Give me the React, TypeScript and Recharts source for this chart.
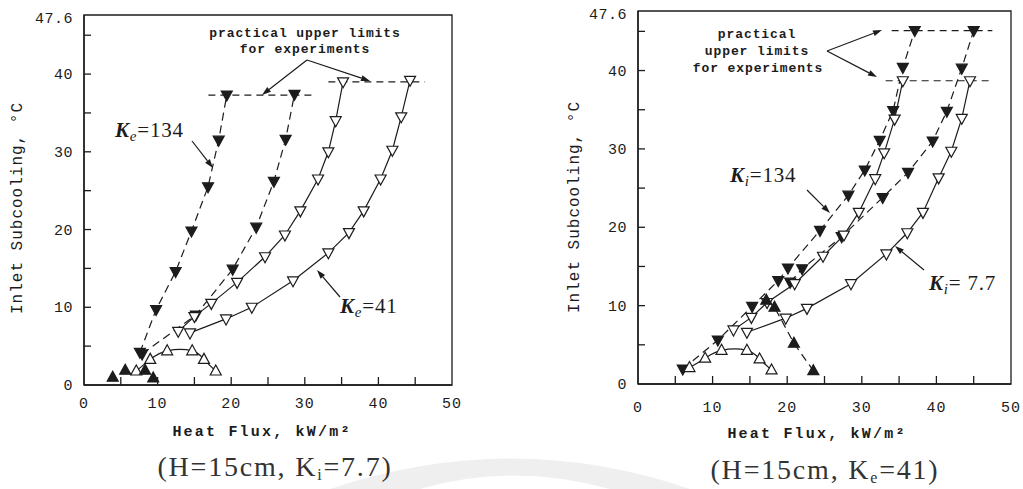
import React from 'react';
import { LineChart, Line, XAxis, YAxis, ReferenceLine, ReferenceArea } from 'recharts';

type P = { x: number; y: number };

const INK = '#1c1c1c';
const MONO = '"Liberation Mono", "DejaVu Sans Mono", monospace';
const SERIF = '"Liberation Serif", "DejaVu Serif", serif';

// ---------- Left panel (H=15cm, Ki=7.7) ----------
const leftKe134A: P[] = [
  { x: 7.6, y: 4.2 }, { x: 9.8, y: 9.7 }, { x: 12.45, y: 14.6 }, { x: 14.6, y: 19.8 },
  { x: 16.85, y: 25.5 }, { x: 18.3, y: 31.5 }, { x: 19.4, y: 37.3 },
];
const leftKe134B: P[] = [
  { x: 7.9, y: 4.0 }, { x: 15.2, y: 9.0 }, { x: 20.2, y: 14.9 }, { x: 23.4, y: 20.3 },
  { x: 25.8, y: 26.2 }, { x: 27.4, y: 31.6 }, { x: 28.6, y: 37.4 },
];
const leftKe41A: P[] = [
  { x: 12.8, y: 6.9 }, { x: 15.0, y: 8.8 }, { x: 17.3, y: 10.5 }, { x: 20.8, y: 13.2 },
  { x: 24.6, y: 16.5 }, { x: 27.3, y: 19.3 }, { x: 29.4, y: 22.4 }, { x: 31.8, y: 26.5 },
  { x: 33.2, y: 30.0 }, { x: 34.2, y: 34.0 }, { x: 35.2, y: 39.0 },
];
const leftKe41B: P[] = [
  { x: 14.4, y: 6.7 }, { x: 19.3, y: 8.5 }, { x: 22.8, y: 10.0 }, { x: 28.4, y: 13.4 },
  { x: 33.2, y: 17.0 }, { x: 36.0, y: 19.6 }, { x: 38.0, y: 22.4 }, { x: 40.3, y: 26.5 },
  { x: 41.9, y: 30.2 }, { x: 43.1, y: 34.5 }, { x: 44.3, y: 39.2 },
];
const leftLowOpen: P[] = [
  { x: 7.1, y: 1.8 }, { x: 9.0, y: 3.3 }, { x: 11.3, y: 4.4 }, { x: 14.7, y: 4.4 },
  { x: 16.3, y: 3.3 }, { x: 17.9, y: 1.8 },
];
const leftLowFilled: P[] = [
  { x: 3.9, y: 1.0 }, { x: 5.6, y: 1.9 }, { x: 8.3, y: 1.9 }, { x: 9.4, y: 0.9 },
];
const leftLimits = [
  { y: 37.3, x1: 16.9, x2: 30.9 },
  { y: 39.0, x1: 33.2, x2: 46.3 },
];

// ---------- Right panel (H=15cm, Ke=41) ----------
const rightKi134A: P[] = [
  { x: 6.0, y: 1.9 }, { x: 10.7, y: 5.6 }, { x: 15.3, y: 9.9 }, { x: 18.8, y: 13.2 },
  { x: 20.1, y: 14.8 }, { x: 24.4, y: 19.6 }, { x: 28.2, y: 24.1 }, { x: 30.4, y: 27.3 },
  { x: 32.4, y: 31.1 }, { x: 34.2, y: 34.9 }, { x: 35.5, y: 40.4 }, { x: 37.1, y: 45.1 },
];
const rightKi134B: P[] = [
  { x: 20.4, y: 13.0 }, { x: 22.0, y: 14.7 }, { x: 27.3, y: 18.8 }, { x: 32.8, y: 23.8 },
  { x: 36.2, y: 27.0 }, { x: 39.5, y: 31.0 }, { x: 41.4, y: 34.8 }, { x: 43.4, y: 40.3 },
  { x: 45.0, y: 45.1 },
];
const rightKi77A: P[] = [
  { x: 12.8, y: 6.9 }, { x: 15.2, y: 8.5 }, { x: 17.3, y: 10.4 }, { x: 21.0, y: 12.8 },
  { x: 24.8, y: 16.3 }, { x: 27.6, y: 19.0 }, { x: 29.6, y: 21.9 }, { x: 31.8, y: 26.2 },
  { x: 33.0, y: 29.5 }, { x: 34.4, y: 33.8 }, { x: 35.5, y: 38.7 },
];
const rightKi77B: P[] = [
  { x: 14.6, y: 6.6 }, { x: 19.8, y: 8.4 }, { x: 22.65, y: 9.65 }, { x: 28.55, y: 12.8 },
  { x: 33.3, y: 16.6 }, { x: 36.1, y: 19.3 }, { x: 38.2, y: 21.9 }, { x: 40.3, y: 26.3 },
  { x: 42.0, y: 29.7 }, { x: 43.4, y: 33.9 }, { x: 44.5, y: 38.7 },
];
const rightLowOpen: P[] = [
  { x: 6.9, y: 2.1 }, { x: 9.0, y: 3.3 }, { x: 11.2, y: 4.3 }, { x: 14.6, y: 4.3 },
  { x: 16.3, y: 3.2 }, { x: 17.9, y: 1.8 },
];
const rightLowFilled: P[] = [
  { x: 17.2, y: 10.7 }, { x: 18.3, y: 9.8 }, { x: 20.9, y: 5.2 }, { x: 23.5, y: 1.7 },
];
const rightLimits = [
  { y: 45.1, x1: 34.0, x2: 47.5 },
  { y: 38.7, x1: 33.2, x2: 47.0 },
];

// ---------- Axes ----------
const xTicks = [0, 5, 10, 15, 20, 25, 30, 35, 40, 45, 50];
const yTicks = [0, 5, 10, 15, 20, 25, 30, 35, 40, 45, 47.6];
const xLabeled = [0, 10, 20, 30, 40, 50];
const yLabeled = [0, 10, 20, 30, 40, 47.6];
const xTitle = 'Heat Flux, kW/m²';
const yTitle = 'Inlet Subcooling, °C';

const tri = (dir: 'down' | 'up', filled: boolean) => (props: any) => {
  const { cx, cy, index } = props;
  if (cx == null || cy == null) return <g key={`e${index}`} />;
  const s = 5.5;
  const d = dir === 'down'
    ? `M${cx - s},${cy - 4} L${cx + s},${cy - 4} L${cx},${cy + 6} Z`
    : `M${cx - s},${cy + 4} L${cx + s},${cy + 4} L${cx},${cy - 6} Z`;
  return (
    <path key={`t${index}`} d={d} fill={filled ? INK : '#fff'} stroke={INK} strokeWidth={1.2} />
  );
};

const makeXTick = (off: number) => (props: any) => {
  const { x, y, payload } = props;
  const v = payload.value as number;
  return (
    <g>
      {v > 0 && v < 50 && <line x1={x} x2={x} y1={y} y2={y - 8} stroke={INK} strokeWidth={1.3} />}
      {xLabeled.includes(v) && (
        <text x={x} y={y + off} textAnchor="middle" fontFamily={MONO} fontSize={15} fill={INK} letterSpacing={1}>
          {v}
        </text>
      )}
    </g>
  );
};

const YTick = (props: any) => {
  const { x, y, payload } = props;
  const v = payload.value as number;
  return (
    <g>
      {v > 0 && v < 47.6 && <line x1={x} x2={x + 7} y1={y} y2={y} stroke={INK} strokeWidth={1.3} />}
      {yLabeled.includes(v) && (
        <text x={x - 11} y={y + (v === 47.6 ? 8 : 5)} textAnchor="end" fontFamily={MONO} fontSize={15} fill={INK} letterSpacing={0.5}>
          {v}
        </text>
      )}
    </g>
  );
};

const DASH = '8 5';

type Series = { data: P[]; dashed: boolean; dir: 'down' | 'up'; filled: boolean; type?: 'linear' | 'natural'; noLine?: boolean };

const leftSeries: Series[] = [
  { data: leftKe134A, dashed: true, dir: 'down', filled: true },
  { data: leftKe134B, dashed: true, dir: 'down', filled: true },
  { data: leftKe41A, dashed: false, dir: 'down', filled: false },
  { data: leftKe41B, dashed: false, dir: 'down', filled: false },
  { data: leftLowOpen, dashed: false, dir: 'up', filled: false, type: 'natural' },
  { data: leftLowFilled, dashed: false, dir: 'up', filled: true, noLine: true },
];
const rightSeries: Series[] = [
  { data: rightKi134A, dashed: true, dir: 'down', filled: true },
  { data: rightKi134B, dashed: true, dir: 'down', filled: true },
  { data: rightKi77A, dashed: false, dir: 'down', filled: false },
  { data: rightKi77B, dashed: false, dir: 'down', filled: false },
  { data: rightLowOpen, dashed: false, dir: 'up', filled: false, type: 'natural' },
  { data: rightLowFilled, dashed: true, dir: 'up', filled: true },
];

function Panel(props: {
  left: number; width: number; top: number; yAxisW: number; right: number; xAxisH: number;
  series: Series[]; limits: { y: number; x1: number; x2: number }[]; xOff: number;
}) {
  const { left, width, top, yAxisW, right, xAxisH, series, limits, xOff } = props;
  return (
    <div style={{ position: 'absolute', left, top: 0 }}>
      <LineChart width={width} height={489} margin={{ top, right, left: 0, bottom: 0 }}>
        <XAxis
          dataKey="x" type="number" domain={[0, 50]} ticks={xTicks} interval={0}
          tickSize={0} tickMargin={0} height={xAxisH} allowDataOverflow
          axisLine={{ stroke: INK, strokeWidth: 1.4 }} tickLine={false} tick={makeXTick(xOff)}
        />
        <YAxis
          dataKey="y" type="number" domain={[0, 47.6]} ticks={yTicks} interval={0}
          tickSize={0} tickMargin={0} width={yAxisW} allowDataOverflow
          axisLine={{ stroke: INK, strokeWidth: 1.4 }} tickLine={false} tick={YTick}
        />
        <ReferenceArea x1={0} x2={50} y1={0} y2={47.6} fill="none" stroke={INK} strokeWidth={1.3} ifOverflow="visible" />
        {limits.map((l, i) => (
          <ReferenceLine
            key={`lim${i}`}
            segment={[{ x: l.x1, y: l.y }, { x: l.x2, y: l.y }]}
            stroke={INK} strokeWidth={1.2} strokeDasharray="7 5" ifOverflow="visible"
          />
        ))}
        {series.map((s, i) => (
          <Line
            key={`s${i}`}
            data={s.data}
            dataKey="y"
            type={s.type ?? 'linear'}
            stroke={s.noLine ? 'none' : INK}
            strokeWidth={1.2}
            strokeDasharray={s.dashed ? DASH : undefined}
            dot={tri(s.dir, s.filled)}
            activeDot={false}
            isAnimationActive={false}
          />
        ))}
      </LineChart>
    </div>
  );
}

function Arrow({ x1, y1, x2, y2 }: { x1: number; y1: number; x2: number; y2: number }) {
  const a = Math.atan2(y2 - y1, x2 - x1);
  const L = 9, W = 3;
  const bx = x2 - L * Math.cos(a), by = y2 - L * Math.sin(a);
  const px = -Math.sin(a) * W, py = Math.cos(a) * W;
  return (
    <g>
      <line x1={x1} y1={y1} x2={bx} y2={by} stroke={INK} strokeWidth={1.2} />
      <path d={`M${x2},${y2} L${bx + px},${by + py} L${bx - px},${by - py} Z`} fill={INK} />
    </g>
  );
}

function KLabel({ x, y, sub, rest }: { x: number; y: number; sub: string; rest: string }) {
  return (
    <text x={x} y={y} fontFamily={SERIF} fontSize={21} fill={INK} letterSpacing={0.8}>
      <tspan fontStyle="italic" fontWeight="bold">K</tspan>
      <tspan fontStyle="italic" fontSize={15} dy={4}>{sub}</tspan>
      <tspan dy={-4}>{rest}</tspan>
    </text>
  );
}

export default function App() {
  const monoText = { fontFamily: MONO, fill: INK } as const;
  return (
    <div style={{ position: 'absolute', left: 0, top: 0, width: 1023, height: 489, background: '#fff', overflow: 'hidden' }}>
      <svg width={1023} height={489} style={{ position: 'absolute', left: 0, top: 0 }}>
        <path d="M330,489 Q512,428 690,489 L610,489 Q512,462 420,489 Z" fill="#efefef" />
      </svg>
      <Panel left={0} width={470} top={15} yAxisW={84} right={18} xAxisH={104} series={leftSeries} limits={leftLimits} xOff={23} />
      <Panel left={512} width={511} top={11} yAxisW={126} right={12} xAxisH={105} series={rightSeries} limits={rightLimits} xOff={28} />
      <svg width={1023} height={489} style={{ position: 'absolute', left: 0, top: 0, pointerEvents: 'none' }}>
        {/* axis titles */}
        <text x={262} y={436} textAnchor="middle" fontSize={15} letterSpacing={2.2} fontWeight="bold" {...monoText}>{xTitle}</text>
        <text x={817} y={438} textAnchor="middle" fontSize={15} letterSpacing={2.2} fontWeight="bold" {...monoText}>{xTitle}</text>
        <text x={18} y={208} transform="rotate(-90 18 208)" textAnchor="middle" dominantBaseline="middle" fontSize={16} letterSpacing={1} {...monoText}>{yTitle}</text>
        <text x={575} y={207} transform="rotate(-90 575 207)" textAnchor="middle" dominantBaseline="middle" fontSize={16} letterSpacing={1} {...monoText}>{yTitle}</text>

        {/* captions */}
        <text x={275} y={476} textAnchor="middle" fontFamily={SERIF} fontSize={28} fill="#333" letterSpacing={1.8}>
          (H=15cm,  K<tspan fontSize={16} dy={4}>i</tspan><tspan dy={-4}>=7.7)</tspan>
        </text>
        <text x={825} y={479} textAnchor="middle" fontFamily={SERIF} fontSize={28} fill="#333" letterSpacing={1.8}>
          (H=15cm,  K<tspan fontSize={16} dy={4}>e</tspan><tspan dy={-4}>=41)</tspan>
        </text>

        {/* left annotations */}
        <text x={305} y={37} textAnchor="middle" fontSize={13} letterSpacing={0.9} fontWeight="bold" {...monoText}>practical upper limits</text>
        <text x={305} y={53} textAnchor="middle" fontSize={13} letterSpacing={0.9} fontWeight="bold" {...monoText}>for experiments</text>
        <Arrow x1={307} y1={60} x2={262} y2={95} />
        <Arrow x1={307} y1={60} x2={370} y2={81} />
        <KLabel x={115} y={137} sub="e" rest="=134" />
        <Arrow x1={192} y1={141} x2={213} y2={168} />
        <KLabel x={340} y={313} sub="e" rest="=41" />
        <Arrow x1={340} y1={297} x2={317} y2={270} />

        {/* right annotations */}
        <text x={757} y={38} textAnchor="middle" fontSize={13} letterSpacing={0.9} fontWeight="bold" {...monoText}>practical</text>
        <text x={757} y={55} textAnchor="middle" fontSize={13} letterSpacing={0.9} fontWeight="bold" {...monoText}>upper limits</text>
        <text x={758} y={72} textAnchor="middle" fontSize={13} letterSpacing={0.9} fontWeight="bold" {...monoText}>for experiments</text>
        <Arrow x1={827} y1={51} x2={882} y2={30} />
        <Arrow x1={827} y1={51} x2={877} y2={77} />
        <KLabel x={730} y={182} sub="i" rest="=134" />
        <Arrow x1={807} y1={190} x2={830} y2={213} />
        <KLabel x={929} y={290} sub="i" rest="= 7.7" />
        <Arrow x1={924} y1={270} x2={895} y2={246} />
      </svg>
    </div>
  );
}
